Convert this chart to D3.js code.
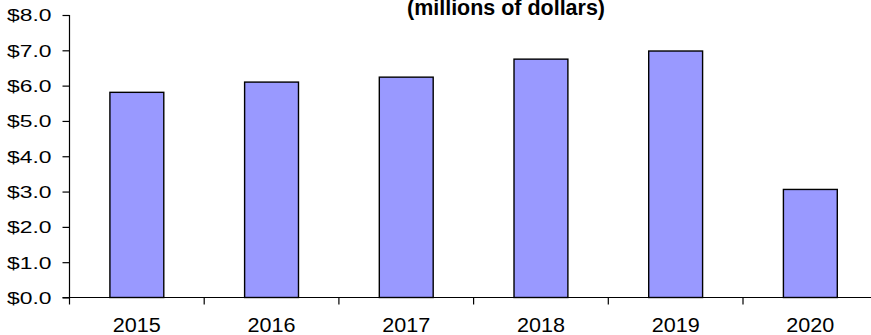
<!DOCTYPE html>
<html>
<head>
<meta charset="utf-8">
<script src="https://cdn.jsdelivr.net/npm/d3@7"></script>
<style>
  html, body { margin: 0; padding: 0; background: #fff; }
  svg { display: block; }
  text { font-family: "Liberation Sans", Arial, sans-serif; fill: #000; }
</style>
</head>
<body>
<svg id="chart" width="871" height="335"></svg>
<script>
// Annual totals, millions of dollars
const years = ["2015", "2016", "2017", "2018", "2019", "2020"];
const values = [5.81, 6.10, 6.24, 6.75, 6.98, 3.06];
const yTicks = [0, 1, 2, 3, 4, 5, 6, 7, 8];
const titleText = "(millions of dollars)";

const svg = d3.select("#chart");
const plotLeft = 69.5, plotRight = 877.7, plotTop = 15, plotBottom = 297.5;

const x = d3.scaleBand().domain(years).range([plotLeft, plotRight])
  .paddingInner(0.6).paddingOuter(0.3);
const y = d3.scaleLinear().domain([0, 8]).range([plotBottom, plotTop]);

const fmt = d => "$" + d3.format(".1f")(d);

// bars
svg.append("g").selectAll("rect")
  .data(values)
  .join("rect")
  .attr("x", (d, i) => x(years[i]))
  .attr("y", d => y(d))
  .attr("width", x.bandwidth())
  .attr("height", d => y(0) - y(d))
  .attr("fill", "#9999FF")
  .attr("stroke", "#000")
  .attr("stroke-width", 1.4);

// y axis
const yAxis = svg.append("g")
  .attr("transform", `translate(${plotLeft},0)`)
  .call(d3.axisLeft(y).tickValues(yTicks).tickFormat(fmt).tickSize(7).tickPadding(11));
yAxis.select(".domain").attr("stroke", "#000").attr("stroke-width", 1.2)
  .attr("d", `M0,${plotTop}V${plotBottom}`);
yAxis.selectAll(".tick line").attr("stroke", "#000").attr("stroke-width", 1.2);
yAxis.selectAll(".tick text")
  .attr("font-size", 16.3)
  .attr("font-family", "Liberation Sans, Arial, sans-serif")
  .attr("fill", "#000")
  .attr("dy", "0.36em")
  .attr("textLength", 44.5)
  .attr("lengthAdjust", "spacingAndGlyphs");

// x axis with ticks on the category boundaries
const xAxisG = svg.append("g");
xAxisG.append("line")
  .attr("x1", plotLeft - 7).attr("x2", 871)
  .attr("y1", plotBottom).attr("y2", plotBottom)
  .attr("stroke", "#000").attr("stroke-width", 1.2);
xAxisG.selectAll("line.tick")
  .data(years)
  .join("line")
  .attr("class", "tick")
  .attr("x1", d => x(d) + x.bandwidth() / 2 - x.step() / 2)
  .attr("x2", d => x(d) + x.bandwidth() / 2 - x.step() / 2)
  .attr("y1", plotBottom).attr("y2", plotBottom + 7)
  .attr("stroke", "#000").attr("stroke-width", 1.2);
xAxisG.selectAll("text")
  .data(years)
  .join("text")
  .attr("x", d => x(d) + x.bandwidth() / 2)
  .attr("y", 332.3)
  .attr("text-anchor", "middle")
  .attr("font-size", 20.5)
  .attr("textLength", 48)
  .attr("lengthAdjust", "spacingAndGlyphs")
  .text(d => d);

// title
svg.append("text")
  .attr("x", 506)
  .attr("y", 15)
  .attr("text-anchor", "middle")
  .attr("font-size", 21.5)
  .attr("font-weight", "bold")
  .attr("textLength", 198)
  .attr("lengthAdjust", "spacingAndGlyphs")
  .text(titleText);
</script>
</body>
</html>
